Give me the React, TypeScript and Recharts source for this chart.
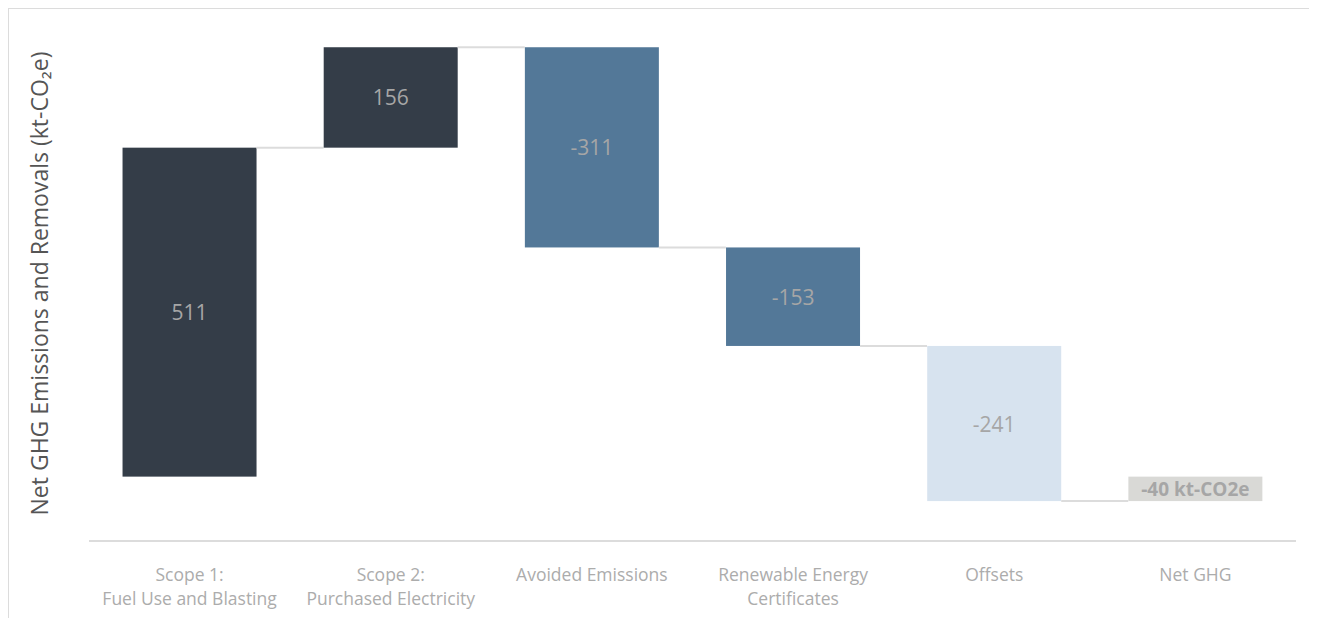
import { BarChart, Bar, XAxis, YAxis, Label } from "recharts"

const categories = [
  "Scope 1:\nFuel Use and Blasting",
  "Scope 2:\nPurchased Electricity",
  "Avoided Emissions",
  "Renewable Energy\nCertificates",
  "Offsets",
  "Net GHG",
]
const deltas = [511, 156, -311, -153, -241]
const netValue = -38
const valueLabels = ["511", "156", "-311", "-153", "-241", "-40 kt-CO2e"]
const colors = ["#343d48", "#343d48", "#537898", "#537898", "#d7e3ef", "#d9d9d6"]

type Step = {
  name: string;
  range: [number, number];
  delta: number;
  label: string;
  color: string;
  isTotal: boolean
}

function buildSteps(): Step[] {
  const steps: Step[] = []
  let running = 0
  deltas.forEach((d, i) => {
    const start = running
    running += d
    steps.push({
      name: categories[i],
      range: [Math.min(start, running), Math.max(start, running)],
      delta: d,
      label: valueLabels[i],
      color: colors[i],
      isTotal: false
    })
  })
  steps.push({
    name: categories[5],
    range: [Math.min(0, netValue), Math.max(0, netValue)],
    delta: netValue,
    label: valueLabels[5],
    color: colors[5],
    isTotal: true
  })
  return steps
}

const data = buildSteps()
const GAP = 0.1667

const WaterfallBar = (props: any) => {
  const { x, y, width, height, payload } = props
  const idx = data.findIndex((d) => d.name === payload.name)
  const gap = width * (2 * GAP) / (1 - 2 * GAP)
  const endY = payload.delta >= 0 ? y : y + height
  return (
    <g>
      <rect x={x} y={y} width={width} height={height} fill={payload.color} />
      {idx < data.length - 1 && (
        <line x1={x + width} x2={x + width + gap} y1={endY} y2={endY} stroke="#dcdcdc" strokeWidth={2} />
      )}
      <text
        x={x + width / 2}
        y={y + height / 2}
        textAnchor="middle"
        dominantBaseline="central"
        fill="#a6a6a6"
        fontSize={payload.isTotal ? 19 : 21}
        fontWeight={payload.isTotal ? 700 : 400}
      >
        {payload.label}
      </text>
    </g>
  )
}

const CategoryTick = (props: any) => {
  const { x, y, payload } = props
  const lines = String(payload.value).split("\n")
  return (
    <text x={x} y={y} textAnchor="middle" fill="#acacac" fontSize={17.5}>
      {lines.map((l, i) => (
        <tspan key={i} x={x} dy={i === 0 ? 32 : 24}>{l}</tspan>
      ))}
    </text>
  )
}

export default function App() {
  return (
    <div style={{ width: 1300, height: 620, border: "1px solid #dcdcdc", fontFamily: "'Open Sans', sans-serif" }}>
      <BarChart
        width={1300}
        height={618}
        data={data}
        margin={{ top: 17, right: 13, bottom: 0, left: 0 }}
        barCategoryGap="16.67%"
      >
        <XAxis
          dataKey="name"
          height={86}
          tick={<CategoryTick />}
          tickLine={false}
          axisLine={{ stroke: "#dcdcdc", strokeWidth: 2 }}
          interval={0}
        />
        <YAxis width={80} domain={[-100, 700]} allowDataOverflow tick={false} axisLine={false} tickLine={false}>
          <Label
            value="Net GHG Emissions and Removals (kt-CO₂e)"
            angle={-90}
            position="center"
            dx={-9}
            fill="#555"
            fontSize={23}
          />
        </YAxis>
        <Bar dataKey="range" shape={<WaterfallBar />} isAnimationActive={false} />
      </BarChart>
    </div>
  )
}
